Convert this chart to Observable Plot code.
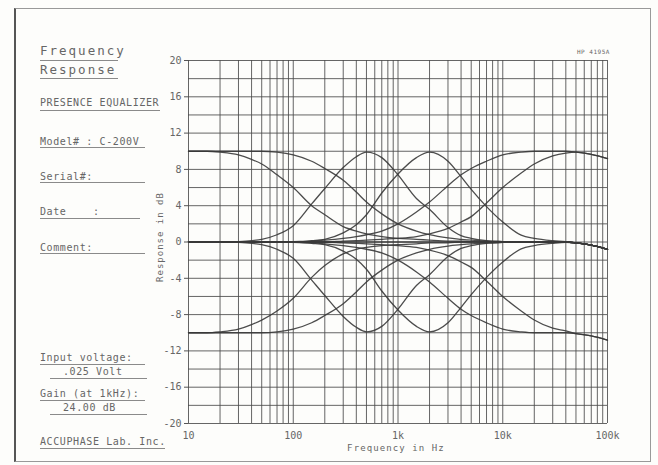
<!DOCTYPE html>
<html><head><meta charset="utf-8">
<script src="https://cdn.jsdelivr.net/npm/d3@7"></script>
<script src="https://cdn.jsdelivr.net/npm/@observablehq/plot@0.6"></script>
<style>
html,body{margin:0;padding:0;background:#fff;}
#page{position:relative;width:658px;height:465px;overflow:hidden;background:#fdfdfb;font-family:"DejaVu Sans Mono",monospace;color:#666;}
#frame{position:absolute;left:14px;top:8px;width:637px;height:454px;border:1px solid #999;border-left:2px solid #555;box-sizing:border-box;}
.t{position:absolute;font-size:10px;letter-spacing:0.6px;white-space:pre;line-height:1;}
.big{font-size:12.5px;letter-spacing:2px;}
.u{position:absolute;height:0;border-top:1px solid #8a8a8a;}
#chart{position:absolute;left:0;top:0;}
#ylab{position:absolute;left:160px;top:237px;transform:translate(-50%,-50%) rotate(-90deg);font-size:9px;letter-spacing:1px;white-space:pre;}
#xlab{position:absolute;left:396px;top:448px;transform:translate(-50%,-50%);font-size:9px;letter-spacing:1.1px;white-space:pre;}
#hp{position:absolute;left:577px;top:48px;font-size:6px;letter-spacing:0.5px;white-space:pre;}
</style></head>
<body>
<div id="page">
  <div id="frame"></div>
  <div class="t big" style="left:40px;top:45px">Frequency</div>
  <div class="u" style="left:40px;top:60px;width:78px"></div>
  <div class="t big" style="left:40px;top:64px">Response</div>
  <div class="u" style="left:40px;top:78px;width:78px"></div>
  <div class="t" style="left:40px;top:98px">PRESENCE EQUALIZER</div>
  <div class="u" style="left:40px;top:110px;width:120px"></div>
  <div class="t" style="left:40px;top:137px">Model# : C-200V</div>
  <div class="u" style="left:40px;top:147px;width:105px"></div>
  <div class="t" style="left:40px;top:172px">Serial#:</div>
  <div class="u" style="left:40px;top:182px;width:105px"></div>
  <div class="t" style="left:40px;top:207px">Date    :</div>
  <div class="u" style="left:40px;top:218px;width:100px"></div>
  <div class="t" style="left:40px;top:243px">Comment:</div>
  <div class="u" style="left:40px;top:253px;width:105px"></div>
  <div class="t" style="left:40px;top:353px">Input voltage:</div>
  <div class="u" style="left:40px;top:364px;width:105px"></div>
  <div class="t" style="left:63px;top:367px">.025 Volt</div>
  <div class="u" style="left:50px;top:378px;width:97px"></div>
  <div class="t" style="left:40px;top:389px">Gain (at 1kHz):</div>
  <div class="u" style="left:40px;top:400px;width:105px"></div>
  <div class="t" style="left:63px;top:403px">24.00 dB</div>
  <div class="u" style="left:50px;top:414px;width:97px"></div>
  <div class="t" style="left:40px;top:437px">ACCUPHASE Lab. Inc.</div>
  <div class="u" style="left:40px;top:448px;width:125px"></div>
  <div id="hp">HP 4195A</div>
  <div id="chart"></div>
  <div id="ylab">Response in dB</div>
  <div id="xlab">Frequency in Hz</div>
</div>
<script>
// Frequencies (Hz) at which the curves were read
const freq = [10, 15, 20, 30, 40, 50, 70, 100, 150, 200, 300, 400, 500, 700, 1000, 1500, 2000, 3000, 4000, 5000, 7000, 10000, 15000, 20000, 30000, 40000, 50000, 70000, 100000];

// Boost curves (dB)
const lowShelfBoostA  = [10, 10, 9.9, 9.6, 9.1, 8.6, 7.4, 6.0, 4.0, 3.0, 1.7, 1.2, 0.9, 0.6, 0.4, 0.3, 0.2, 0.1, 0.1, 0.05, 0, 0, 0, 0, 0, 0, -0.1, -0.35, -0.8];
const lowShelfBoostB  = [10, 10, 10, 10, 10, 10, 9.9, 9.6, 8.9, 8.1, 6.8, 5.5, 4.4, 3.1, 2.0, 1.2, 0.8, 0.45, 0.3, 0.2, 0.1, 0.05, 0, 0, 0, 0, -0.1, -0.35, -0.8];
const peakBoost500    = [0, 0, 0, 0.05, 0.15, 0.3, 0.8, 1.8, 4.2, 5.9, 8.2, 9.4, 9.9, 9.3, 7.4, 4.8, 3.6, 1.6, 0.7, 0.4, 0.15, 0.05, 0, 0, 0, 0, -0.1, -0.35, -0.8];
const peakBoost2k     = [0, 0, 0, 0, 0, 0, 0, 0, 0.15, 0.3, 1.0, 1.9, 3.0, 5.4, 7.5, 9.3, 9.9, 8.9, 7.2, 5.8, 3.9, 2.2, 0.75, 0.4, 0.15, 0.05, -0.1, -0.35, -0.8];
const highShelfBoostC = [0, 0, 0, 0, 0, 0, 0, 0.05, 0.1, 0.2, 0.4, 0.6, 0.8, 1.2, 2.0, 3.3, 4.4, 6.2, 7.4, 8.1, 8.9, 9.6, 9.9, 10, 10, 10, 9.9, 9.65, 9.2];
const highShelfBoostD = [0, 0, 0, 0, 0, 0, 0, 0, 0, 0, 0.1, 0.15, 0.2, 0.3, 0.4, 0.6, 0.9, 1.5, 2.2, 2.8, 4.3, 6.0, 7.6, 8.6, 9.5, 9.8, 9.9, 9.65, 9.2];

// Cut curves (dB)
const lowShelfCutA  = [-10, -10, -9.9, -9.6, -9.1, -8.6, -7.6, -6.2, -3.9, -2.6, -1.3, -0.8, -0.6, -0.4, -0.3, -0.2, -0.1, -0.1, 0, 0, 0, 0, 0, 0, 0, 0, -0.1, -0.35, -0.8];
const lowShelfCutB  = [-10, -10, -10, -10, -10, -10, -9.9, -9.6, -8.9, -8.1, -6.8, -5.5, -4.4, -3.1, -2.0, -1.2, -0.8, -0.45, -0.3, -0.2, -0.1, -0.05, 0, 0, 0, 0, -0.1, -0.35, -0.8];
const peakCut500    = [0, 0, 0, -0.05, -0.15, -0.3, -0.8, -1.8, -4.2, -5.9, -8.2, -9.4, -9.9, -9.3, -7.4, -4.8, -3.6, -1.6, -0.7, -0.4, -0.15, -0.05, 0, 0, 0, 0, -0.1, -0.35, -0.8];
const peakCut2k     = [0, 0, 0, 0, 0, 0, 0, 0, -0.15, -0.3, -1.0, -1.9, -3.0, -5.4, -7.5, -9.3, -9.9, -8.9, -7.2, -5.8, -3.9, -2.2, -0.75, -0.4, -0.15, -0.05, -0.1, -0.35, -0.8];
const highShelfCutC = [0, 0, 0, 0, 0, 0, 0, -0.05, -0.1, -0.2, -0.4, -0.6, -0.8, -1.2, -2.0, -3.3, -4.4, -6.2, -7.4, -8.1, -8.9, -9.6, -9.9, -10, -10, -10, -10.1, -10.35, -10.8];
const highShelfCutD = [0, 0, 0, 0, 0, 0, 0, 0, 0, 0, -0.1, -0.15, -0.2, -0.3, -0.4, -0.6, -0.9, -1.5, -2.2, -2.8, -4.3, -6.0, -7.6, -8.6, -9.5, -9.8, -10.1, -10.35, -10.8];

// Flat (controls off)
const flat = [0, 0, 0, 0, 0, 0, 0, 0, 0, 0, 0, 0, 0, 0, 0, 0, 0, 0, 0, 0, 0, 0, 0, 0, 0, 0, -0.1, -0.35, -0.8];

// Grid and ticks
const xGrid = [10,20,30,40,50,60,70,80,90,100,200,300,400,500,600,700,800,900,1000,2000,3000,4000,5000,6000,7000,8000,9000,10000,20000,30000,40000,50000,60000,70000,80000,90000,100000];
const xTicks = [10, 100, 1000, 10000, 100000];
const xTickLabels = ["10", "100", "1k", "10k", "100k"];
const yGrid = [-20,-18,-16,-14,-12,-10,-8,-6,-4,-2,0,2,4,6,8,10,12,14,16,18,20];
const yTicks = [-20,-16,-12,-8,-4,0,4,8,12,16,20];

const series = [
  ["lowShelfBoostA", lowShelfBoostA], ["lowShelfBoostB", lowShelfBoostB],
  ["peakBoost500", peakBoost500], ["peakBoost2k", peakBoost2k],
  ["highShelfBoostC", highShelfBoostC], ["highShelfBoostD", highShelfBoostD],
  ["lowShelfCutA", lowShelfCutA], ["lowShelfCutB", lowShelfCutB],
  ["peakCut500", peakCut500], ["peakCut2k", peakCut2k],
  ["highShelfCutC", highShelfCutC], ["highShelfCutD", highShelfCutD],
  ["flat", flat]
];
const rows = series.flatMap(([name, vals]) => vals.map((v, i) => ({curve: name, f: freq[i], db: v})));

const chart = Plot.plot({
  width: 658,
  height: 465,
  marginLeft: 188,
  marginRight: 51,
  marginTop: 60,
  marginBottom: 42,
  style: {background: "transparent", fontFamily: "DejaVu Sans Mono, monospace", fontSize: "10px", color: "#666"},
  x: {type: "log", domain: [10, 100000]},
  y: {domain: [-20, 20]},
  marks: [
    Plot.ruleX(xGrid, {stroke: "#4a4a4a", strokeWidth: 1, strokeOpacity: 0.85}),
    Plot.ruleY(yGrid, {stroke: "#4a4a4a", strokeWidth: 1, strokeOpacity: 0.85}),
    Plot.line(rows, {x: "f", y: "db", z: "curve", stroke: "#383838", strokeWidth: 1.3, strokeOpacity: 0.9, curve: "monotone-x"}),
    Plot.axisY(yTicks, {tickSize: 4, tickPadding: 3, tickFormat: d => String(d), label: null, stroke: "#555"}),
    Plot.axisX(xTicks, {tickSize: 0, tickPadding: 8, tickFormat: d => xTickLabels[xTicks.indexOf(d)], label: null})
  ]
});
document.getElementById("chart").appendChild(chart);
</script>
</body></html>
